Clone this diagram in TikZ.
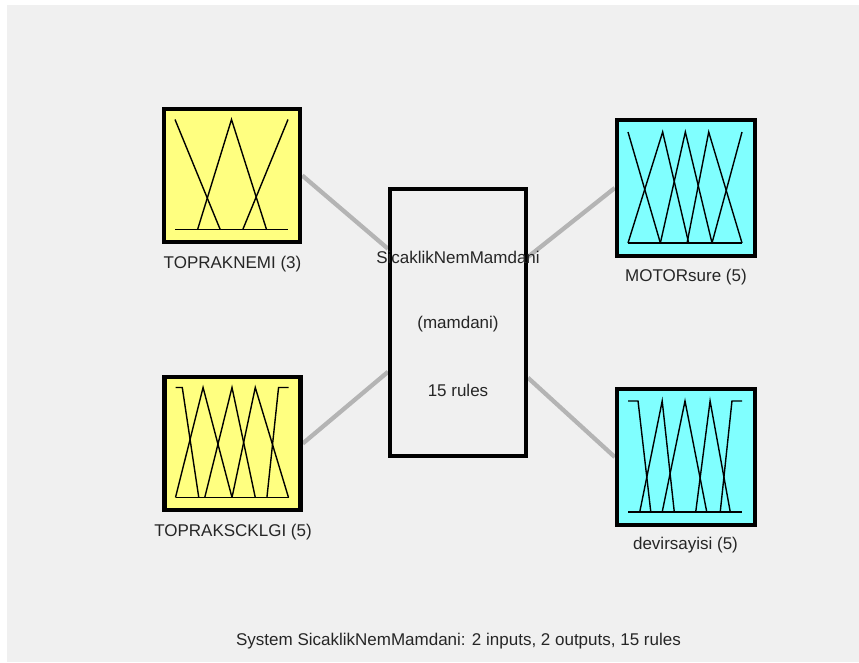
\documentclass[tikz,border=0pt]{standalone}
\usepackage{tikz}
\usepackage{fontspec}
\setmainfont{Liberation Sans}
\usetikzlibrary{calc}

\definecolor{figbg}{RGB}{240,240,240}
\definecolor{inyellow}{RGB}{255,255,128}
\definecolor{outcyan}{RGB}{128,255,255}
\definecolor{linkgray}{RGB}{180,180,180}
\definecolor{txtgray}{RGB}{38,38,38}

\pgfdeclarelayer{paper}
\pgfdeclarelayer{links}
\pgfsetlayers{paper,links,main}

\begin{document}
\begin{tikzpicture}[x=1pt, y=-1pt, font=\fontsize{17}{20}\selectfont, text=txtgray]
\tikzstyle{varbox}=[draw=black, line width=4.5pt, inner sep=0pt]
\tikzstyle{inbox}=[varbox, fill=inyellow, minimum width=136pt, minimum height=133pt]
\tikzstyle{outbox}=[varbox, fill=outcyan, minimum width=138pt, minimum height=136pt]
\tikzstyle{rulebox}=[draw=black, line width=4pt, fill=figbg, minimum width=136pt, minimum height=267pt]
\tikzstyle{varname}=[anchor=base, inner sep=0pt]
\tikzstyle{link}=[draw=linkgray, line width=4.3pt]
\tikzstyle{mf}=[draw=black, line width=1.4pt]
\tikzstyle{mfin}=[xshift=-57pt, yshift=-54pt, x=113pt, y=110pt]
\tikzstyle{mfout}=[xshift=-58pt, yshift=-55pt, x=114pt, y=111pt]

\useasboundingbox (0,0) rectangle (859,662);
\begin{pgfonlayer}{paper}
\fill[white] (0,0) rectangle (859,662);
\fill[figbg] (7,5) rectangle (859,662);
\end{pgfonlayer}

% variables and rule block
\node[inbox] (nemi) at (232,175.5) {};
\node[inbox] (sckl) at (232.5,443.5) {};
\node[outbox] (motor) at (686,188) {};
\node[outbox] (devir) at (686,457) {};
\node[rulebox] (fis) at (458,322.5) {};

\node[varname] (nemitxt) at (232.5,268) {TOPRAKNEMI (3)};
\node[varname] (sckltxt) at (233,536) {TOPRAKSCKLGI (5)};
\node[varname] (motortxt) at (686,281.5) {MOTORsure (5)};
\node[varname] (devirtxt) at (685.5,549) {devirsayisi (5)};

\node[varname] (fisname) at (458,263) {SicaklikNemMamdani};
\node[varname] (fistype) at (458,328) {(mamdani)};
\node[varname] (fisrules) at (458,396) {15 rules};
\node[varname] (caption) at (458.5,645) {System SicaklikNemMamdani: 2 inputs, 2 outputs, 15 rules};

% links
\begin{pgfonlayer}{links}
\draw[link] (nemi.east) -- ($(fis.north west)!0.228!(fis.south west)$);
\draw[link] (sckl.east) -- ($(fis.north west)!0.682!(fis.south west)$);
\draw[link] ($(fis.north east)!0.258!(fis.south east)$) -- (motor.west);
\draw[link] ($(fis.north east)!0.704!(fis.south east)$) -- (devir.west);
\end{pgfonlayer}

% membership functions
\begin{scope}[shift={(nemi.center)}, mfin]
\draw[mf] (0,0) -- (1,0);
\draw[mf] (0,1) -- (0.40,0);
\draw[mf] (0.20,0) -- (0.50,1) -- (0.81,0);
\draw[mf] (0.60,0) -- (1,1);
\end{scope}

\begin{scope}[shift={(sckl.center)}, mfin]
\draw[mf] (0,0) -- (1,0);
\draw[mf] (0,1) -- (0.06,1) -- (0.206,0);
\foreach \a/\b/\c in {0/0.244/0.5, 0.259/0.5/0.706, 0.5/0.706/1}
  \draw[mf] (\a,0) -- (\b,1) -- (\c,0);
\draw[mf] (0.809,0) -- (0.912,1) -- (1,1);
\end{scope}

\begin{scope}[shift={(motor.center)}, mfout]
\draw[mf] (0,0) -- (1,0);
\draw[mf] (0,1) -- (0.284,0);
\foreach \a/\b/\c in {0/0.304/0.532, 0.284/0.503/0.737, 0.518/0.708/1}
  \draw[mf] (\a,0) -- (\b,1) -- (\c,0);
\draw[mf] (0.737,0) -- (1,1);
\end{scope}

\begin{scope}[shift={(devir.center)}, mfout]
\draw[mf] (0,0) -- (1,0);
\draw[mf] (0,1) -- (0.088,1) -- (0.2,0);
\foreach \a/\b/\c in {0.103/0.3/0.406, 0.3/0.5/0.691, 0.594/0.72/0.897}
  \draw[mf] (\a,0) -- (\b,1) -- (\c,0);
\draw[mf] (0.809,0) -- (0.912,1) -- (1,1);
\end{scope}
\end{tikzpicture}
\end{document}
